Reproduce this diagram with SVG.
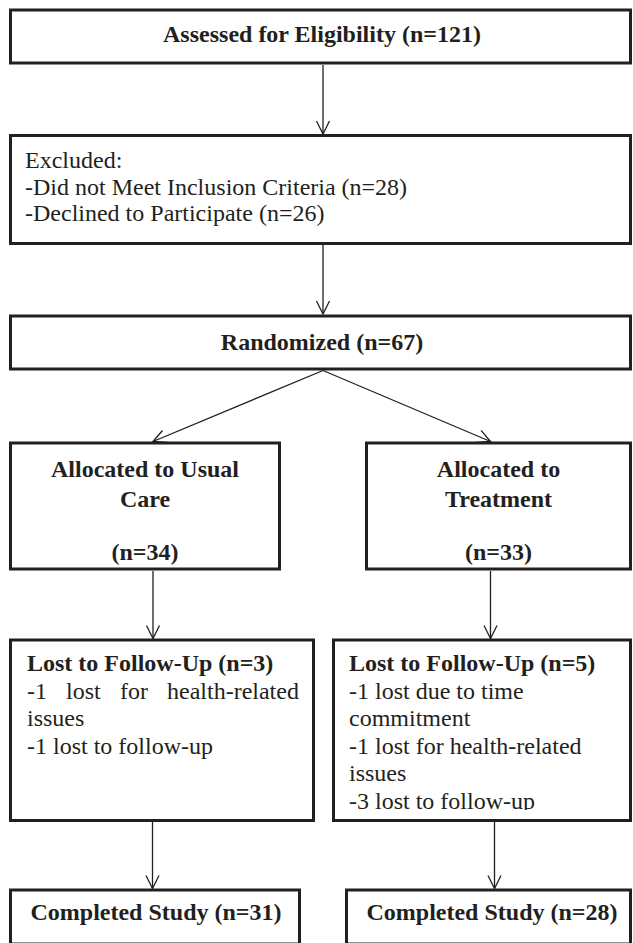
<svg xmlns="http://www.w3.org/2000/svg" width="633" height="943" viewBox="0 0 633 943">
<style>
.box{fill:#ffffff;stroke:#231f20;stroke-width:3}
.t{font-family:"Liberation Serif","Times New Roman",serif;font-size:24px;fill:#231f20}
.b{font-weight:bold}
.c{text-anchor:middle}
.conn line{stroke:#231f20;stroke-width:1.3;fill:none;marker-end:url(#arr)}
</style>
<defs>
<marker id="arr" markerUnits="userSpaceOnUse" markerWidth="20" markerHeight="20" viewBox="-15 -10 20 20" refX="0" refY="0" orient="auto">
<path d="M-13,-6.5 L0,0 L-13,6.5" fill="none" stroke="#231f20" stroke-width="1.3"/>
</marker>
<clipPath id="clipR"><rect x="335" y="642" width="294" height="168"/></clipPath>
</defs>
<rect width="633" height="943" fill="#ffffff"/>
<g class="conn">
<line x1="323" y1="65" x2="323" y2="134"/>
<line x1="323" y1="245" x2="323" y2="314"/>
<line x1="323" y1="370.5" x2="153" y2="441.5"/>
<line x1="323" y1="370.5" x2="490.5" y2="441.5"/>
<line x1="153" y1="571" x2="153" y2="638.5"/>
<line x1="490.5" y1="571" x2="490.5" y2="638.5"/>
<line x1="152.5" y1="822" x2="152.5" y2="888.5"/>
<line x1="494.5" y1="822" x2="494.5" y2="888.5"/>
</g>
<g id="assessed">
<rect class="box" x="10.5" y="10" width="620" height="53"/>
<text class="t b c" x="322" y="42">Assessed for Eligibility (n=121)</text>
</g>
<g id="excluded">
<rect class="box" x="10.5" y="135.5" width="620" height="108"/>
<text class="t" x="25" y="168">Excluded:</text>
<text class="t" x="25" y="194.5">-Did not Meet Inclusion Criteria (n=28)</text>
<text class="t" x="25" y="221">-Declined to Participate (n=26)</text>
</g>
<g id="randomized">
<rect class="box" x="10.5" y="316" width="620" height="53"/>
<text class="t b c" x="322" y="350">Randomized (n=67)</text>
</g>
<g id="alloc-usual">
<rect class="box" x="10.5" y="443" width="269" height="126"/>
<text class="t b c" x="145" y="477">Allocated to Usual</text>
<text class="t b c" x="145" y="507">Care</text>
<text class="t b c" x="145" y="560">(n=34)</text>
</g>
<g id="alloc-treatment">
<rect class="box" x="366.5" y="443" width="264" height="126"/>
<text class="t b c" x="498.5" y="477">Allocated to</text>
<text class="t b c" x="498.5" y="507">Treatment</text>
<text class="t b c" x="498.5" y="560">(n=33)</text>
</g>
<g id="lost-usual">
<rect class="box" x="10.5" y="640" width="303" height="180.5"/>
<text class="t b" x="27" y="671">Lost to Follow-Up (n=3)</text>
<text class="t" y="698.6"><tspan x="27">-1</tspan><tspan x="66.1">lost</tspan><tspan x="119.9">for</tspan><tspan x="167">health-related</tspan></text>
<text class="t" x="27" y="726.2">issues</text>
<text class="t" x="27" y="753.8">-1 lost to follow-up</text>
</g>
<g id="lost-treatment">
<rect class="box" x="333.5" y="640" width="297" height="180.5"/>
<g clip-path="url(#clipR)">
<text class="t b" x="349" y="671">Lost to Follow-Up (n=5)</text>
<text class="t" x="349" y="698.6">-1 lost due to time</text>
<text class="t" x="349" y="726.2">commitment</text>
<text class="t" x="349" y="753.8">-1 lost for health-related</text>
<text class="t" x="349" y="781.4">issues</text>
<text class="t" x="349" y="809">-3 lost to follow-up</text>
</g>
</g>
<g id="completed-usual">
<rect class="box" x="10.5" y="890" width="289" height="54"/>
<text class="t b c" x="156" y="920">Completed Study (n=31)</text>
</g>
<g id="completed-treatment">
<rect class="box" x="346.5" y="890" width="284" height="54"/>
<text class="t b c" x="492" y="920">Completed Study (n=28)</text>
</g>
</svg>
